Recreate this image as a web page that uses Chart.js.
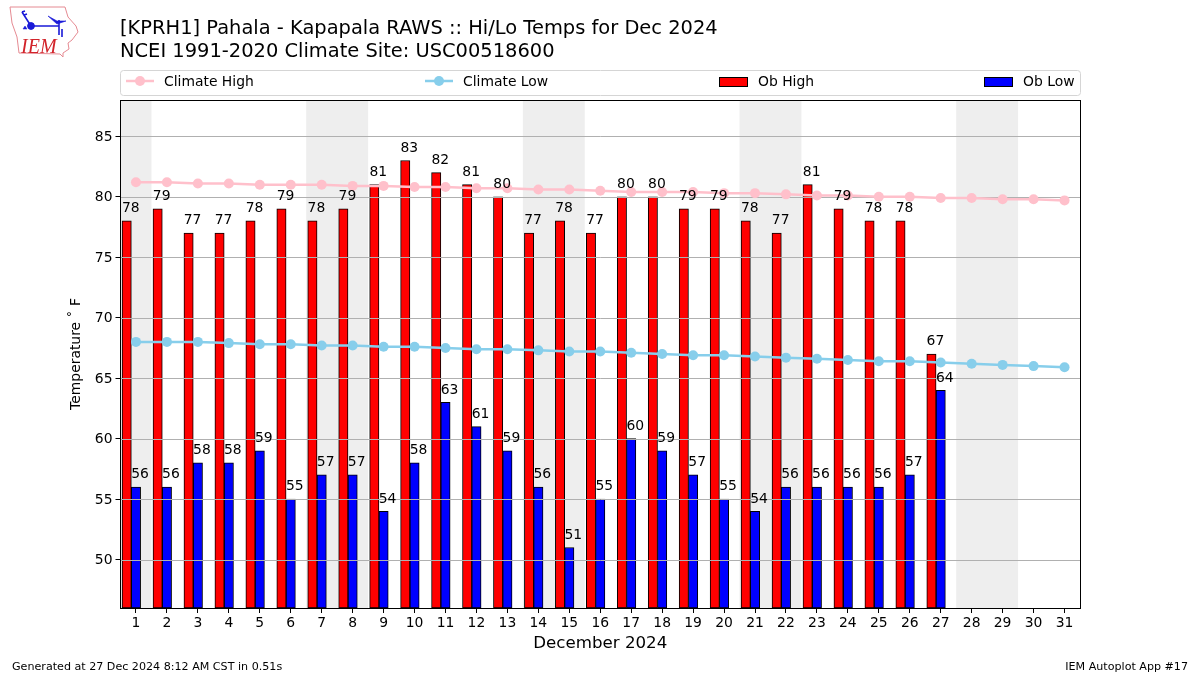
<!DOCTYPE html>
<html>
<head>
<meta charset="utf-8">
<title>KPRH1 Hi/Lo Temps</title>
<script src="https://cdn.jsdelivr.net/npm/chart.js@4"></script>
<style>
  body { margin: 0; background: #fff; font-family: "DejaVu Sans", sans-serif; color: #000; }
  #wrap { position: relative; width: 1200px; height: 675px; overflow: hidden; }
  canvas { position: absolute; left: 0; top: 0; }
  .txt { position: absolute; white-space: nowrap; }
  #title { left: 120px; top: 17px; font-size: 19.44px; line-height: 22.5px; }
  #foot1 { left: 12px; top: 660px; font-size: 11.11px; }
  #foot2 { right: 12px; top: 660px; font-size: 11.11px; }
  #logo { position: absolute; left: 0; top: 0; }
</style>
</head>
<body>
<div id="wrap">
  <canvas id="chart" width="1200" height="675"></canvas>
  <svg id="logo" width="90" height="65" viewBox="0 0 90 65">
    <path d="M10 7 L65 7 L68 17 L76 26 L78 32 L72 40 L68 43 L69 49 L63 53 L63 57 L60 54 L19 53 L17 37 L12 23 Z" fill="#fff" stroke="#e58a92" stroke-width="1"/>
    <g stroke="#1a1ad8" fill="#1a1ad8">
      <path d="M31 26 L59 26 M59 20 L59 35 M62 29 L62 37 M22 12 L31 26 M22 12 L25 11 M24 15 L27 14" stroke-width="1.6" fill="none"/>
      <circle cx="31" cy="26" r="3.4"/>
      <path d="M48 16 L57 21 L66 21 L57 24 Z" stroke-width="0.6"/>
      <path d="M23 29 L27 29 L25 26 Z" stroke-width="0.5"/>
    </g>
    <text x="21" y="52.5" font-family="Liberation Serif" font-style="italic" font-size="20" fill="#d2232a">IEM</text>
  </svg>
  <div class="txt" id="title">[KPRH1] Pahala - Kapapala RAWS :: Hi/Lo Temps for Dec 2024<br>NCEI 1991-2020 Climate Site: USC00518600</div>
  <div class="txt" id="foot1">Generated at 27 Dec 2024 8:12 AM CST in 0.51s</div>
  <div class="txt" id="foot2">IEM Autoplot App #17</div>
</div>
<script>
// datos
const days = [1,2,3,4,5,6,7,8,9,10,11,12,13,14,15,16,17,18,19,20,21,22,23,24,25,26,27,28,29,30,31];
const climateHigh = [81.2,81.2,81.1,81.1,81.0,81.0,81.0,80.9,80.9,80.8,80.8,80.7,80.7,80.6,80.6,80.5,80.4,80.4,80.4,80.3,80.3,80.2,80.1,80.1,80.0,80.0,79.9,79.9,79.8,79.8,79.7];
const climateLow = [68.0,68.0,68.0,67.9,67.8,67.8,67.7,67.7,67.6,67.6,67.5,67.4,67.4,67.3,67.2,67.2,67.1,67.0,66.9,66.9,66.8,66.7,66.6,66.5,66.4,66.4,66.3,66.2,66.1,66.0,65.9];
const obHigh = [78,79,77,77,78,79,78,79,81,83,82,81,80,77,78,77,80,80,79,79,78,77,81,79,78,78,67];
const obLow = [56,56,58,58,59,55,57,57,54,58,63,61,59,56,51,55,60,59,57,55,54,56,56,56,56,57,64];
const yTicks = [50,55,60,65,70,75,80,85];
const weekendRanges = [[0.5,1.5],[6.5,8.5],[13.5,15.5],[20.5,22.5],[27.5,29.5]];

const FONT = '"DejaVu Sans", sans-serif';
const yMin = 46, yMax = 88;
const climateColor = { high: '#ffc0cb', low: '#87ceeb' };

// sombreado de fines de semana, debajo de todo
const shadePlugin = {
    id: 'shade',
    beforeDatasetsDraw(chart) {
        const { ctx, chartArea, scales } = chart;
        ctx.save();
        ctx.fillStyle = '#eeeeee';
        weekendRanges.forEach(r => {
            const x0 = scales.x.getPixelForValue(r[0]);
            const x1 = scales.x.getPixelForValue(r[1]);
            ctx.fillRect(x0, chartArea.top, x1 - x0, chartArea.bottom - chartArea.top);
        });
        ctx.restore();
    }
};

// lineas de la grilla: encima de las barras, debajo de las lineas
const gridPlugin = {
    id: 'midGrid',
    afterDatasetDraw(chart, args) {
        if (chart.data.datasets[args.index].label !== 'Ob High') return;
        const { ctx, chartArea, scales } = chart;
        ctx.save();
        ctx.strokeStyle = '#b0b0b0';
        ctx.lineWidth = 1;
        yTicks.forEach(t => {
            const y = Math.round(scales.y.getPixelForValue(t)) + 0.5;
            ctx.beginPath();
            ctx.moveTo(chartArea.left, y);
            ctx.lineTo(chartArea.right, y);
            ctx.stroke();
        });
        ctx.restore();
    }
};

// etiquetas de valores, marco y leyenda
const overlayPlugin = {
    id: 'overlay',
    afterDraw(chart) {
        const { ctx, chartArea, scales } = chart;
        ctx.save();
        ctx.font = '13.9px ' + FONT;
        ctx.fillStyle = '#000';
        ctx.textAlign = 'center';
        ctx.textBaseline = 'alphabetic';
        obHigh.forEach((v, i) => {
            ctx.fillText(v, scales.x.getPixelForValue(days[i] - 0.17), scales.y.getPixelForValue(v) - 8.7);
        });
        obLow.forEach((v, i) => {
            ctx.fillText(v, scales.x.getPixelForValue(days[i] + 0.13), scales.y.getPixelForValue(v) - 8.7);
        });

        ctx.strokeStyle = '#000';
        ctx.lineWidth = 1;
        ctx.strokeRect(chartArea.left, chartArea.top + 0.5, chartArea.right - chartArea.left + 0.5, chartArea.bottom - chartArea.top);

        // caja de la leyenda
        ctx.strokeStyle = '#d5d5d5';
        ctx.beginPath();
        ctx.roundRect(120.5, 70.5, 960, 25, 3);
        ctx.stroke();

        const items = [
            { label: 'Climate High', x: 126, color: climateColor.high, line: true },
            { label: 'Climate Low', x: 425, color: climateColor.low, line: true },
            { label: 'Ob High', x: 719, color: '#ff0000' },
            { label: 'Ob Low', x: 984, color: '#0000ff' }
        ];
        ctx.textAlign = 'left';
        items.forEach(it => {
            if (it.line) {
                ctx.strokeStyle = it.color;
                ctx.lineWidth = 2.5;
                ctx.beginPath();
                ctx.moveTo(it.x, 81);
                ctx.lineTo(it.x + 28, 81);
                ctx.stroke();
                ctx.fillStyle = it.color;
                ctx.beginPath();
                ctx.arc(it.x + 14, 81, 5, 0, Math.PI * 2);
                ctx.fill();
            } else {
                ctx.fillStyle = it.color;
                ctx.fillRect(it.x + 0.5, 77.5, 28, 9);
                ctx.strokeStyle = '#000';
                ctx.lineWidth = 1;
                ctx.strokeRect(it.x + 0.5, 77.5, 28, 9);
            }
            ctx.fillStyle = '#000';
            ctx.fillText(it.label, it.x + (it.line ? 38 : 39), 86);
        });
        ctx.restore();
    }
};

function lineSet(label, values, color) {
    return {
        type: 'line',
        label: label,
        data: values.map((v, i) => ({ x: days[i], y: v })),
        borderColor: color,
        backgroundColor: color,
        borderWidth: 2.5,
        pointRadius: 5,
        pointHoverRadius: 5,
        pointBorderWidth: 0,
        tension: 0,
        clip: false,
        order: 1
    };
}

function barSet(label, values, color, shift, order) {
    return {
        label: label,
        data: values.map((v, i) => ({ x: days[i] + shift, y: v })),
        backgroundColor: color,
        borderColor: '#000',
        borderWidth: 1,
        borderSkipped: false,
        barThickness: 9.3,
        grouped: false,
        base: yMin,
        order: order
    };
}

new Chart(document.getElementById('chart').getContext('2d'), {
    type: 'bar',
    data: {
        datasets: [
            lineSet('Climate High', climateHigh, climateColor.high),
            lineSet('Climate Low', climateLow, climateColor.low),
            barSet('Ob Low', obLow, '#0000ff', 0, 3),
            barSet('Ob High', obHigh, '#ff0000', -0.3, 2)
        ]
    },
    options: {
        responsive: false,
        animation: false,
        layout: { padding: { left: 0, right: 120, top: 100, bottom: 0 } },
        plugins: {
            legend: { display: false },
            title: { display: false },
            tooltip: { enabled: false }
        },
        scales: {
            x: {
                type: 'linear',
                offset: false,
                min: 0.5,
                max: 31.5,
                afterBuildTicks: s => { s.ticks = days.map(d => ({ value: d })); },
                afterFit: s => { s.height = 67; },
                border: { display: false },
                grid: { offset: false, drawOnChartArea: false, tickLength: 5, tickColor: '#000', tickWidth: 1 },
                ticks: {
                    autoSkip: false,
                    maxRotation: 0,
                    color: '#000',
                    padding: 2,
                    font: { family: FONT, size: 13.9 },
                    callback: v => String(v)
                },
                title: {
                    display: true,
                    text: 'December 2024',
                    color: '#000',
                    font: { family: FONT, size: 16.67 },
                    padding: { top: 0, bottom: 21 }
                }
            },
            y: {
                min: yMin,
                max: yMax,
                afterBuildTicks: s => { s.ticks = yTicks.map(v => ({ value: v })); },
                afterFit: s => { s.width = 120.5; },
                border: { display: false },
                grid: { drawOnChartArea: false, tickLength: 5, tickColor: '#000', tickWidth: 1 },
                ticks: {
                    color: '#000',
                    padding: 3,
                    labelOffset: 1,
                    font: { family: FONT, size: 13.9 },
                    callback: v => String(v)
                },
                title: {
                    display: true,
                    text: 'Temperature ˚ F',
                    color: '#000',
                    font: { family: FONT, size: 13.9 },
                    padding: { top: 68, bottom: 0 }
                }
            }
        }
    },
    plugins: [shadePlugin, gridPlugin, overlayPlugin]
});
</script>
</body>
</html>
